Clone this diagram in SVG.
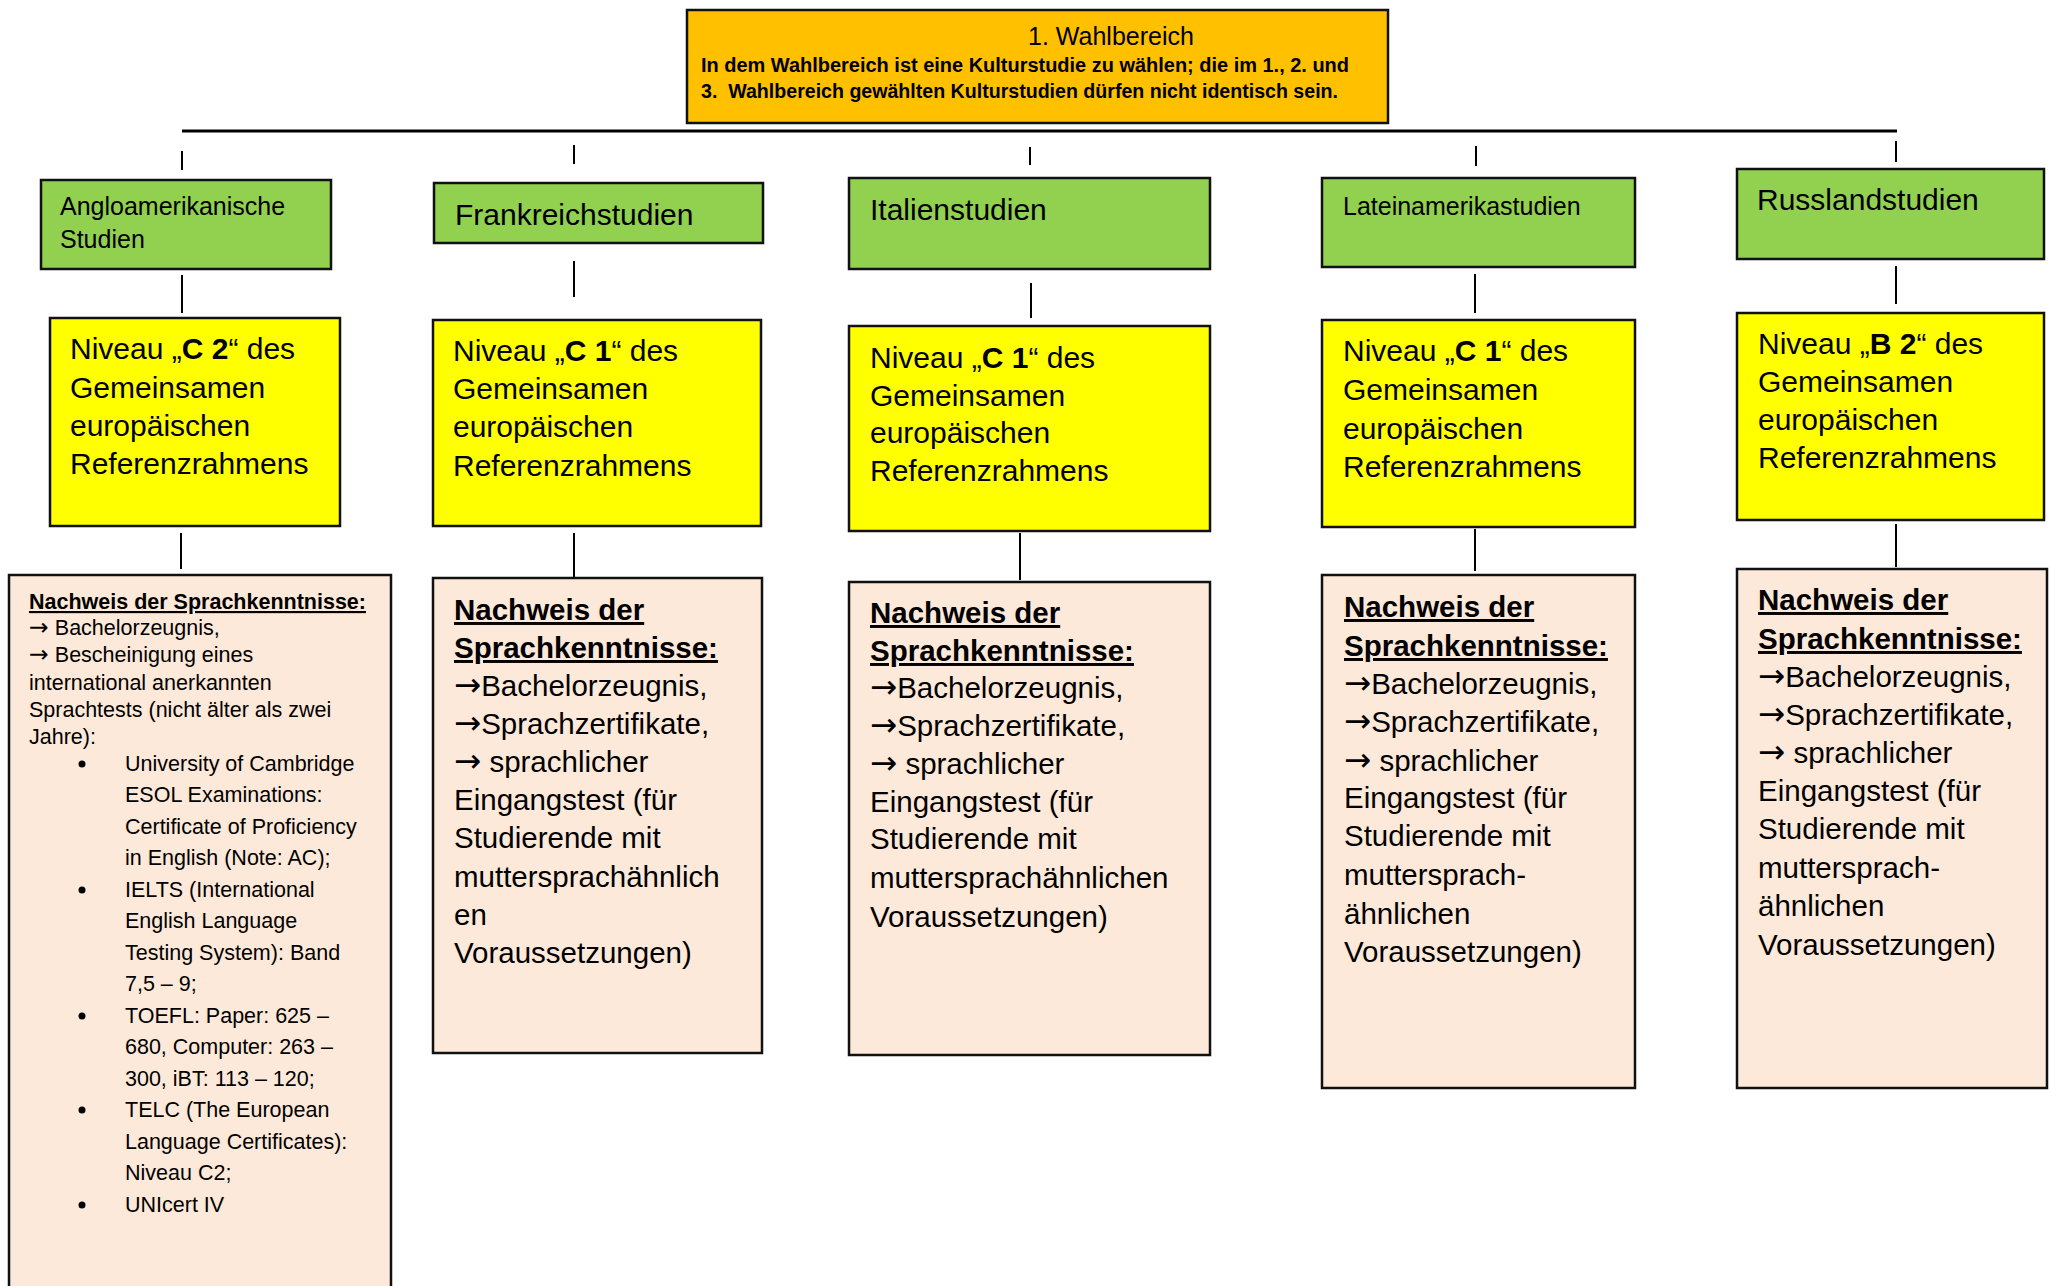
<svg xmlns="http://www.w3.org/2000/svg" width="2051" height="1286" viewBox="0 0 2051 1286">
<style>
  text { font-family: "Liberation Sans", Arial, sans-serif; fill: #000; }
  .box { stroke: #111; stroke-width: 2.5; }
  .top { fill: #FFC000; }
  .green { fill: #92D050; }
  .yellow { fill: #FFFF00; }
  .pink { fill: #FDE9D9; }
  .con line { stroke: #000; stroke-width: 2; }
  .yt { font-size: 30px; }
  .pt { font-size: 29.5px; }
  .ph { font-weight: bold; text-decoration: underline; }
  .at { font-size: 21.5px; }
  .arr { font-family: "DejaVu Sans", sans-serif; font-size: 1.1em; }
</style>
<rect width="2051" height="1286" fill="#fff"/>

<g id="connectors" class="con">
  <line x1="1030" y1="65" x2="1030" y2="87"/>
  <line x1="182" y1="131" x2="1897" y2="131" style="stroke-width:3"/>
  <line x1="182" y1="151" x2="182" y2="170"/>
  <line x1="574" y1="145" x2="574" y2="164"/>
  <line x1="1030" y1="147" x2="1030" y2="165"/>
  <line x1="1476" y1="146" x2="1476" y2="166"/>
  <line x1="1896" y1="141" x2="1896" y2="162"/>
  <line x1="182" y1="275" x2="182" y2="313"/>
  <line x1="574" y1="261" x2="574" y2="297"/>
  <line x1="1031" y1="283" x2="1031" y2="318"/>
  <line x1="1475" y1="274" x2="1475" y2="313"/>
  <line x1="1896" y1="266" x2="1896" y2="304"/>
  <line x1="181" y1="533" x2="181" y2="569"/>
  <line x1="574" y1="533" x2="574" y2="577"/>
  <line x1="1020" y1="533" x2="1020" y2="580"/>
  <line x1="1475" y1="529" x2="1475" y2="571"/>
  <line x1="1896" y1="524" x2="1896" y2="567"/>
</g>

<g id="wahlbereich">
  <rect class="box top" x="687" y="10" width="701" height="113"/>
  <text x="1111" y="45" font-size="25" text-anchor="middle">1. Wahlbereich</text>
  <text x="701" y="72" font-size="20" font-weight="bold" textLength="648" lengthAdjust="spacingAndGlyphs">In dem Wahlbereich ist eine Kulturstudie zu wählen; die im 1., 2. und</text>
  <text x="701" y="98" font-size="20" font-weight="bold" textLength="637" lengthAdjust="spacingAndGlyphs" xml:space="preserve">3.  Wahlbereich gewählten Kulturstudien dürfen nicht identisch sein.</text>
</g>

<g id="anglo-head">
  <rect class="box green" x="41" y="180" width="290" height="89"/>
  <text x="60" y="215" font-size="25">Angloamerikanische</text>
  <text x="60" y="248" font-size="25">Studien</text>
</g>
<g id="frank-head">
  <rect class="box green" x="434" y="183" width="329" height="60"/>
  <text x="455" y="225" font-size="30">Frankreichstudien</text>
</g>
<g id="italien-head">
  <rect class="box green" x="849" y="178" width="361" height="91"/>
  <text x="870" y="220" font-size="30">Italienstudien</text>
</g>
<g id="latein-head">
  <rect class="box green" x="1322" y="178" width="313" height="89"/>
  <text x="1343" y="215" font-size="25">Lateinamerikastudien</text>
</g>
<g id="russ-head">
  <rect class="box green" x="1737" y="169" width="307" height="90"/>
  <text x="1757" y="210" font-size="30">Russlandstudien</text>
</g>

<g id="anglo-niveau">
  <rect class="box yellow" x="50" y="318" width="290" height="208"/>
  <text class="yt" x="70" y="359">Niveau „<tspan font-weight="bold">C 2</tspan>“ des</text>
  <text class="yt" x="70" y="398">Gemeinsamen</text>
  <text class="yt" x="70" y="436">europäischen</text>
  <text class="yt" x="70" y="474">Referenzrahmens</text>
</g>
<g id="frank-niveau">
  <rect class="box yellow" x="433" y="320" width="328" height="206"/>
  <text class="yt" x="453" y="361">Niveau „<tspan font-weight="bold">C 1</tspan>“ des</text>
  <text class="yt" x="453" y="399">Gemeinsamen</text>
  <text class="yt" x="453" y="437">europäischen</text>
  <text class="yt" x="453" y="476">Referenzrahmens</text>
</g>
<g id="italien-niveau">
  <rect class="box yellow" x="849" y="326" width="361" height="205"/>
  <text class="yt" x="870" y="368">Niveau „<tspan font-weight="bold">C 1</tspan>“ des</text>
  <text class="yt" x="870" y="406">Gemeinsamen</text>
  <text class="yt" x="870" y="443">europäischen</text>
  <text class="yt" x="870" y="481">Referenzrahmens</text>
</g>
<g id="latein-niveau">
  <rect class="box yellow" x="1322" y="320" width="313" height="207"/>
  <text class="yt" x="1343" y="361">Niveau „<tspan font-weight="bold">C 1</tspan>“ des</text>
  <text class="yt" x="1343" y="400">Gemeinsamen</text>
  <text class="yt" x="1343" y="439">europäischen</text>
  <text class="yt" x="1343" y="477">Referenzrahmens</text>
</g>
<g id="russ-niveau">
  <rect class="box yellow" x="1737" y="313" width="307" height="207"/>
  <text class="yt" x="1758" y="354">Niveau „<tspan font-weight="bold">B 2</tspan>“ des</text>
  <text class="yt" x="1758" y="392">Gemeinsamen</text>
  <text class="yt" x="1758" y="430">europäischen</text>
  <text class="yt" x="1758" y="468">Referenzrahmens</text>
</g>

<g id="anglo-nachweis">
  <rect class="box pink" x="9" y="575" width="382" height="730"/>
  <text class="at ph" x="29" y="609" font-size="20.5px">Nachweis der Sprachkenntnisse:</text>
  <text class="at" x="29" y="635"><tspan class="arr">→</tspan> Bachelorzeugnis,</text>
  <text class="at" x="29" y="662"><tspan class="arr">→</tspan> Bescheinigung eines</text>
  <text class="at" x="29" y="690">international anerkannten</text>
  <text class="at" x="29" y="717">Sprachtests (nicht älter als zwei</text>
  <text class="at" x="29" y="744">Jahre):</text>
  <g fill="#000">
    <circle cx="82" cy="764" r="3.5"/>
    <circle cx="82" cy="890" r="3.5"/>
    <circle cx="82" cy="1016" r="3.5"/>
    <circle cx="82" cy="1110" r="3.5"/>
    <circle cx="82" cy="1205" r="3.5"/>
  </g>
  <text class="at" x="125" y="771">University of Cambridge</text>
  <text class="at" x="125" y="802">ESOL Examinations:</text>
  <text class="at" x="125" y="834">Certificate of Proficiency</text>
  <text class="at" x="125" y="865">in English (Note: AC);</text>
  <text class="at" x="125" y="897">IELTS (International</text>
  <text class="at" x="125" y="928">English Language</text>
  <text class="at" x="125" y="960">Testing System): Band</text>
  <text class="at" x="125" y="991">7,5 – 9;</text>
  <text class="at" x="125" y="1023">TOEFL: Paper: 625 –</text>
  <text class="at" x="125" y="1054">680, Computer: 263 –</text>
  <text class="at" x="125" y="1086">300, iBT: 113 – 120;</text>
  <text class="at" x="125" y="1117">TELC (The European</text>
  <text class="at" x="125" y="1149">Language Certificates):</text>
  <text class="at" x="125" y="1180">Niveau C2;</text>
  <text class="at" x="125" y="1212">UNIcert IV</text>
</g>

<g id="frank-nachweis">
  <rect class="box pink" x="433" y="578" width="329" height="475"/>
  <text class="pt ph" x="454" y="620">Nachweis der</text>
  <text class="pt ph" x="454" y="658">Sprachkenntnisse:</text>
  <text class="pt" x="454" y="696"><tspan class="arr">→</tspan>Bachelorzeugnis,</text>
  <text class="pt" x="454" y="734"><tspan class="arr">→</tspan>Sprachzertifikate,</text>
  <text class="pt" x="454" y="772"><tspan class="arr">→</tspan> sprachlicher</text>
  <text class="pt" x="454" y="810">Eingangstest (für</text>
  <text class="pt" x="454" y="848">Studierende mit</text>
  <text class="pt" x="454" y="887">muttersprachähnlich</text>
  <text class="pt" x="454" y="925">en</text>
  <text class="pt" x="454" y="963">Voraussetzungen)</text>
</g>

<g id="italien-nachweis">
  <rect class="box pink" x="849" y="582" width="361" height="473"/>
  <text class="pt ph" x="870" y="623">Nachweis der</text>
  <text class="pt ph" x="870" y="661">Sprachkenntnisse:</text>
  <text class="pt" x="870" y="698"><tspan class="arr">→</tspan>Bachelorzeugnis,</text>
  <text class="pt" x="870" y="736"><tspan class="arr">→</tspan>Sprachzertifikate,</text>
  <text class="pt" x="870" y="774"><tspan class="arr">→</tspan> sprachlicher</text>
  <text class="pt" x="870" y="812">Eingangstest (für</text>
  <text class="pt" x="870" y="849">Studierende mit</text>
  <text class="pt" x="870" y="888">muttersprachähnlichen</text>
  <text class="pt" x="870" y="927">Voraussetzungen)</text>
</g>

<g id="latein-nachweis">
  <rect class="box pink" x="1322" y="575" width="313" height="513"/>
  <text class="pt ph" x="1344" y="617">Nachweis der</text>
  <text class="pt ph" x="1344" y="656">Sprachkenntnisse:</text>
  <text class="pt" x="1344" y="694"><tspan class="arr">→</tspan>Bachelorzeugnis,</text>
  <text class="pt" x="1344" y="732"><tspan class="arr">→</tspan>Sprachzertifikate,</text>
  <text class="pt" x="1344" y="771"><tspan class="arr">→</tspan> sprachlicher</text>
  <text class="pt" x="1344" y="808">Eingangstest (für</text>
  <text class="pt" x="1344" y="846">Studierende mit</text>
  <text class="pt" x="1344" y="885">muttersprach-</text>
  <text class="pt" x="1344" y="924">ähnlichen</text>
  <text class="pt" x="1344" y="962">Voraussetzungen)</text>
</g>

<g id="russ-nachweis">
  <rect class="box pink" x="1737" y="569" width="310" height="519"/>
  <text class="pt ph" x="1758" y="610">Nachweis der</text>
  <text class="pt ph" x="1758" y="649">Sprachkenntnisse:</text>
  <text class="pt" x="1758" y="687"><tspan class="arr">→</tspan>Bachelorzeugnis,</text>
  <text class="pt" x="1758" y="725"><tspan class="arr">→</tspan>Sprachzertifikate,</text>
  <text class="pt" x="1758" y="763"><tspan class="arr">→</tspan> sprachlicher</text>
  <text class="pt" x="1758" y="801">Eingangstest (für</text>
  <text class="pt" x="1758" y="839">Studierende mit</text>
  <text class="pt" x="1758" y="878">muttersprach-</text>
  <text class="pt" x="1758" y="916">ähnlichen</text>
  <text class="pt" x="1758" y="955">Voraussetzungen)</text>
</g>
</svg>
